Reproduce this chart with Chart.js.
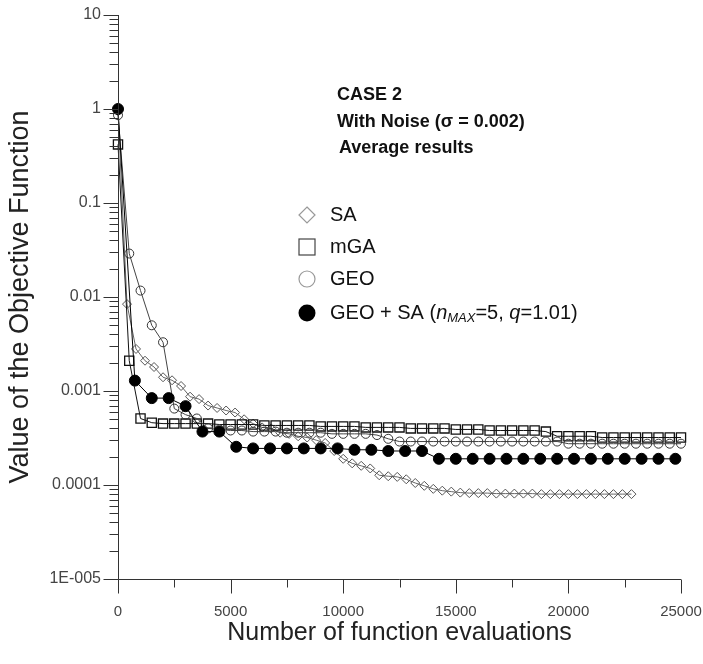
<!DOCTYPE html>
<html lang="en">
<head>
<meta charset="UTF-8">
<title>Objective function vs evaluations</title>
<script src="https://cdn.jsdelivr.net/npm/chart.js@4.4.0/dist/chart.umd.min.js"></script>
<style>
	body { margin: 0; background: #fff; }
</style>
</head>
<body>
<canvas id="chart" width="703" height="664"></canvas>

<script>
	const FONT = '"Liberation Sans", Arial, sans-serif';

	// evaluations between two stored points of each run
	const saStep = 400;
	const mgaStep = 500;
	const geoStep = 500;
	const hybridStep = 750;

	const saValues = [0.95, 0.0084, 0.0028, 0.0021, 0.0018, 0.0014, 0.0013, 0.00113, 0.00087, 0.00082,
		0.0007, 0.00066, 0.00062, 0.00059, 0.0005, 0.00045, 0.00041, 0.0004, 0.00036, 0.00035,
		0.00033, 0.00032, 0.0003, 0.00028, 0.00023, 0.00019, 0.00017, 0.00016, 0.00015, 0.000127,
		0.000124, 0.000122, 0.000115, 0.000105, 0.000098, 0.000091, 0.000087, 0.000085, 0.000083, 0.000082,
		0.000082, 0.000082, 0.000081, 0.000081, 0.000081, 0.000081, 0.000081, 0.00008, 0.00008, 0.00008,
		0.00008, 0.00008, 0.00008, 0.00008, 0.00008, 0.00008, 0.00008, 0.00008];

	const mgaValues = [0.42, 0.0021, 0.00051, 0.00046, 0.00045, 0.00045, 0.00045, 0.00045, 0.00045, 0.00044,
		0.00044, 0.00044, 0.00044, 0.00043, 0.00043, 0.00043, 0.00043, 0.00043, 0.00042, 0.00042,
		0.00042, 0.00042, 0.00041, 0.00041, 0.00041, 0.00041, 0.0004, 0.0004, 0.0004, 0.0004,
		0.00039, 0.00039, 0.00039, 0.00038, 0.00038, 0.00038, 0.00038, 0.00038, 0.00037, 0.00033,
		0.00033, 0.00033, 0.00033, 0.00032, 0.00032, 0.00032, 0.00032, 0.00032, 0.00032, 0.00032,
		0.00032];

	const geoValues = [0.86, 0.029, 0.0117, 0.005, 0.0033, 0.00065, 0.00056, 0.00051, 0.0004, 0.00039,
		0.00038, 0.00038, 0.00037, 0.00037, 0.00037, 0.00036, 0.00036, 0.00036, 0.00036, 0.00035,
		0.00035, 0.00035, 0.00035, 0.00034, 0.00031, 0.00029, 0.00029, 0.00029, 0.00029, 0.00029,
		0.00029, 0.00029, 0.00029, 0.00029, 0.00029, 0.00029, 0.00029, 0.00029, 0.00029, 0.00029,
		0.000275, 0.000275, 0.000275, 0.000275, 0.000275, 0.000275, 0.000275, 0.000275, 0.000275, 0.000275,
		0.000275];

	const hybridValues = [1.0, 0.00129, 0.00084, 0.00084, 0.00069, 0.00037, 0.00037, 0.000255, 0.000245, 0.000245,
		0.000245, 0.000245, 0.000245, 0.000245, 0.000237, 0.000237, 0.00023, 0.00023, 0.00023, 0.00019,
		0.00019, 0.00019, 0.00019, 0.00019, 0.00019, 0.00019, 0.00019, 0.00019, 0.00019, 0.00019,
		0.00019, 0.00019, 0.00019, 0.00019];

	const yMajorTicks = [10, 1, 0.1, 0.01, 0.001, 0.0001, 0.00001];
	const yTickLabels = ['10', '1', '0.1', '0.01', '0.001', '0.0001', '1E-005'];
	const xMax = 25000;
	const xMajorStep = 5000;

	const noteLines = ['CASE 2', 'With Noise (\u03c3 = 0.002)', 'Average results'];

	function toPoints(values, step) {
		return values.map((v, i) => ({ x: i * step, y: v }));
	}

	// axis lines with outward major/minor ticks, the note block and the legend
	const decorations = {
		id: 'decorations',
		afterDraw(chart) {
			const ctx = chart.ctx;
			const xs = chart.scales.x, ys = chart.scales.y;
			const left = Math.round(xs.getPixelForValue(0)) + 0.5;
			const bottom = Math.round(ys.getPixelForValue(1e-5)) + 0.5;
			ctx.save();
			ctx.strokeStyle = '#333';
			ctx.lineWidth = 1;
			ctx.beginPath();
			ctx.moveTo(left, ys.getPixelForValue(10));
			ctx.lineTo(left, bottom);
			ctx.moveTo(left, bottom);
			ctx.lineTo(xs.getPixelForValue(xMax), bottom);
			for (let e = -5; e <= 1; e++) {
				for (let m = 1; m <= 9; m++) {
					const v = m * Math.pow(10, e);
					if (v > 10.0001) break;
					const p = Math.round(ys.getPixelForValue(v)) + 0.5;
					const len = m === 1 ? 15 : 9;
					ctx.moveTo(left - len, p);
					ctx.lineTo(left, p);
				}
			}
			for (let v = 0; v <= xMax; v += xMajorStep / 2) {
				const p = Math.round(xs.getPixelForValue(v)) + 0.5;
				const len = v % xMajorStep === 0 ? 14 : 8;
				ctx.moveTo(p, bottom);
				ctx.lineTo(p, bottom + len);
			}
			ctx.stroke();

			// note block
			ctx.fillStyle = '#111';
			ctx.textBaseline = 'middle';
			ctx.textAlign = 'left';
			ctx.font = 'bold 18px ' + FONT;
			ctx.fillText(noteLines[0], 337, 95);
			ctx.fillText(noteLines[1], 337, 122);
			ctx.fillText(noteLines[2], 339, 148);

			// legend
			const rows = [215, 247, 279, 313];
			const mx = 307, tx = 330;
			ctx.lineWidth = 1.2;
			ctx.strokeStyle = '#999';
			ctx.beginPath();
			ctx.moveTo(mx, rows[0] - 8); ctx.lineTo(mx + 8, rows[0]);
			ctx.lineTo(mx, rows[0] + 8); ctx.lineTo(mx - 8, rows[0]); ctx.closePath();
			ctx.stroke();
			ctx.strokeStyle = '#444';
			ctx.strokeRect(mx - 8, rows[1] - 8, 16, 16);
			ctx.strokeStyle = '#999';
			ctx.beginPath();
			ctx.arc(mx, rows[2], 8, 0, Math.PI * 2);
			ctx.stroke();
			ctx.fillStyle = '#000';
			ctx.beginPath();
			ctx.arc(mx, rows[3], 8.5, 0, Math.PI * 2);
			ctx.fill();

			ctx.fillStyle = '#111';
			ctx.font = '20px ' + FONT;
			chart.data.datasets.slice(0, 3).forEach((d, i) => ctx.fillText(d.label, tx, rows[i]));
			// label with italic symbols and subscript
			const parts = [
				['GEO + SA (', '20px', 0],
				['n', 'italic 20px', 0],
				['MAX', 'italic 13px', 5],
				['=5, ', '20px', 0],
				['q', 'italic 20px', 0],
				['=1.01)', '20px', 0]
			];
			let x = tx;
			parts.forEach(([s, f, dy]) => {
				ctx.font = f + ' ' + FONT;
				ctx.fillText(s, x, rows[3] + dy);
				x += ctx.measureText(s).width;
			});
			ctx.restore();
		}
	};

	new Chart(document.getElementById('chart'), {
		type: 'line',
		data: {
			datasets: [
				{
					label: 'SA',
					data: toPoints(saValues, saStep),
					borderColor: '#666',
					borderWidth: 1,
					pointStyle: 'rectRot',
					pointRadius: 4.5,
					pointBorderColor: '#555',
					pointBackgroundColor: 'rgba(0,0,0,0)',
					pointBorderWidth: 1,
					order: 4
				},
				{
					label: 'mGA',
					data: toPoints(mgaValues, mgaStep),
					borderColor: '#111',
					borderWidth: 1,
					pointStyle: 'rect',
					pointRadius: 6.5,
					pointBorderColor: '#111',
					pointBackgroundColor: 'rgba(0,0,0,0)',
					pointBorderWidth: 1.3,
					order: 3
				},
				{
					label: 'GEO',
					data: toPoints(geoValues, geoStep),
					borderColor: '#444',
					borderWidth: 1,
					pointStyle: 'circle',
					pointRadius: 4.5,
					pointBorderColor: '#333',
					pointBackgroundColor: 'rgba(0,0,0,0)',
					pointBorderWidth: 1,
					order: 2
				},
				{
					label: 'GEO + SA',
					data: toPoints(hybridValues, hybridStep),
					borderColor: '#000',
					borderWidth: 1,
					pointStyle: 'circle',
					pointRadius: 5.5,
					pointBorderColor: '#000',
					pointBackgroundColor: '#000',
					order: 1
				}
			]
		},
		options: {
			responsive: false,
			animation: false,
			clip: false,
			layout: { padding: { top: 15, right: 22, left: 0, bottom: 0 } },
			plugins: {
				legend: { display: false },
				tooltip: { enabled: false }
			},
			scales: {
				x: {
					type: 'linear',
					min: 0,
					max: xMax,
					grid: { display: false, drawTicks: false },
					border: { display: false },
					ticks: {
						stepSize: xMajorStep,
						padding: 24,
						maxRotation: 0,
						color: '#444',
						font: { family: FONT, size: 15 },
						callback: v => String(v)
					},
					title: {
						display: true,
						text: 'Number of function evaluations',
						color: '#222',
						font: { family: FONT, size: 25 },
						padding: { top: 16, bottom: 16 }
					},
					afterFit: s => {
						s.height = 85;
						s.paddingLeft = 0;
						s.paddingRight = 0;
					}
				},
				y: {
					type: 'logarithmic',
					min: 0.00001,
					max: 10,
					grid: { display: false, drawTicks: false },
					border: { display: false },
					ticks: {
						autoSkip: false,
						padding: 17,
						color: '#444',
						font: { family: FONT, size: 16 },
						callback: v => {
							const i = yMajorTicks.findIndex(t => Math.abs(t - v) / t < 1e-6);
							return i >= 0 ? yTickLabels[i] : '';
						}
					},
					title: {
						display: true,
						text: 'Value of the Objective Function',
						color: '#222',
						font: { family: FONT, size: 27 },
						padding: { top: 4, bottom: 4 }
					},
					afterFit: s => {
						s.width = 118;
						s.paddingTop = 0;
						s.paddingBottom = 0;
					}
				}
			}
		},
		plugins: [decorations]
	});
</script>
</body>
</html>
